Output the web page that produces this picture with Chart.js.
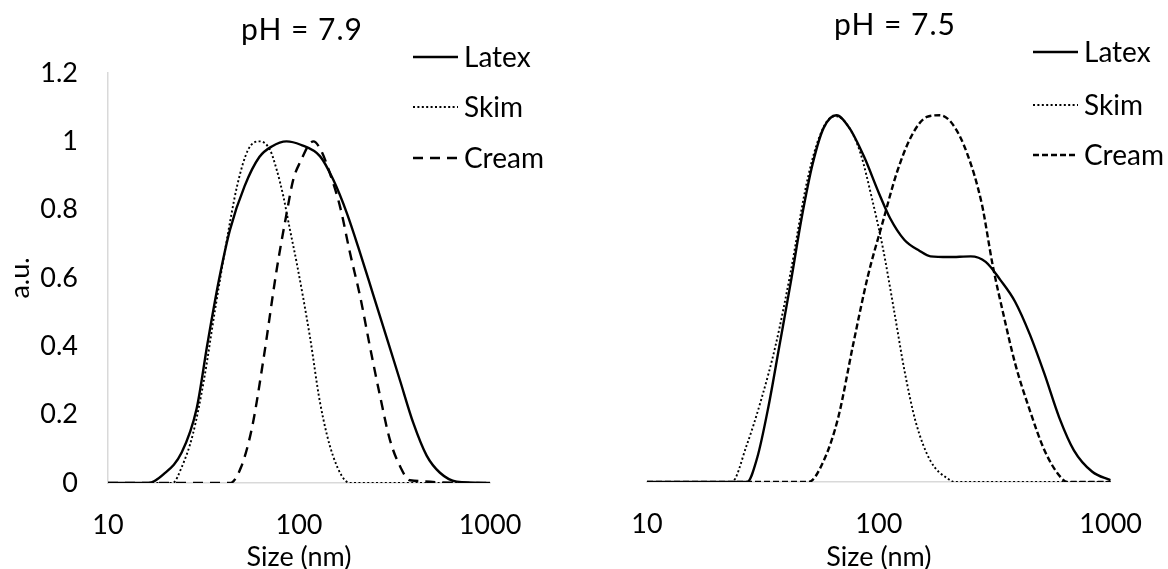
<!DOCTYPE html>
<html>
<head>
<meta charset="utf-8">
<title>Particle size distribution</title>
<script src="https://cdn.jsdelivr.net/npm/chart.js@4.4.1/dist/chart.umd.min.js"></script>
<style>
  body { margin: 0; background: #fff; }
  #wrap { position: relative; width: 1168px; height: 569px; overflow: hidden; }
  canvas { position: absolute; top: 0; }
  #left { left: 0; }
  #right { left: 580px; }
</style>
</head>
<body>
<div id="wrap">
  <canvas id="left" width="580" height="569"></canvas>
  <canvas id="right" width="588" height="569"></canvas>
</div>
<script>
// axis ticks
const sizeTicks = [10, 100, 1000];
const auTicks = [0, 0.2, 0.4, 0.6, 0.8, 1, 1.2];

// pH 7.9
const latex79Size = [10, 16.3, 19.5, 24.3, 29.1, 33.2, 38, 43.5, 51.9, 62, 72, 86, 102, 129, 151, 178, 209, 245, 288, 338, 397, 466, 547, 670, 1000];
const latex79Val  = [0, 0, 0.025, 0.089, 0.217, 0.409, 0.591, 0.741, 0.869, 0.954, 0.985, 1.0, 0.99, 0.956, 0.888, 0.79, 0.673, 0.55, 0.425, 0.3, 0.175, 0.08, 0.03, 0.004, 0];
const skim79Size  = [10, 21.8, 24.3, 27.8, 31.8, 36.3, 41.5, 47.4, 54.2, 62.5, 70.5, 76.4, 82.8, 89.7, 97.3, 114, 129, 151, 185, 1000];
const skim79Val   = [0, 0, 0.046, 0.142, 0.302, 0.505, 0.698, 0.869, 0.976, 1.0, 0.975, 0.917, 0.839, 0.741, 0.644, 0.429, 0.234, 0.078, 0, 0];
const cream79Size = [10, 43.5, 49.7, 56.8, 64.9, 76.4, 86.2, 93.3, 101, 119, 130, 145, 164, 185, 209, 235, 266, 299, 338, 381, 1000];
const cream79Val  = [0, 0, 0.046, 0.163, 0.356, 0.624, 0.79, 0.888, 0.937, 1.0, 0.975, 0.907, 0.809, 0.673, 0.546, 0.4, 0.253, 0.127, 0.049, 0.008, 0];

// pH 7.5
const latex75Size = [10, 27, 29.9, 33.4, 37.3, 41.6, 46.4, 51.8, 57.8, 65.6, 74.6, 86.4, 100, 112, 129, 150, 167, 200, 249, 289, 334, 387, 448, 518, 600, 694, 833, 1000];
const latex75Val  = [0, 0, 0.072, 0.221, 0.402, 0.582, 0.773, 0.933, 1.039, 1.076, 1.039, 0.954, 0.848, 0.773, 0.71, 0.678, 0.662, 0.66, 0.662, 0.646, 0.593, 0.529, 0.433, 0.317, 0.189, 0.093, 0.03, 0.005];
const skim75Size  = [10, 23.2, 26.8, 31.1, 35.9, 41.6, 48.2, 53.7, 60, 65.6, 74.6, 83.3, 93, 104, 116, 129, 144, 167, 200, 212, 1000];
const skim75Val   = [0, 0, 0.104, 0.242, 0.402, 0.614, 0.858, 0.986, 1.06, 1.073, 1.039, 0.965, 0.837, 0.688, 0.508, 0.327, 0.178, 0.062, 0.008, 0, 0];
const cream75Size = [10, 49.7, 57.8, 66.8, 77.4, 89.6, 104, 120, 139, 161, 183, 208, 240, 278, 310, 346, 387, 448, 518, 600, 650, 1000];
const cream75Val  = [0, 0, 0.062, 0.189, 0.402, 0.603, 0.763, 0.911, 1.018, 1.071, 1.076, 1.05, 0.965, 0.816, 0.635, 0.487, 0.348, 0.21, 0.093, 0.019, 0, 0];

Chart.defaults.font.family = 'Lato, "Open Sans", sans-serif';
Chart.defaults.font.size = 27;
Chart.defaults.color = '#000';

const TITLE_FONT = '30px Lato, "Open Sans", sans-serif';
const LEGEND_FONT = '28px Lato, "Open Sans", sans-serif';
const AXIS = '#d9d9d9';

function pts(xs, ys) {
  return xs.map((x, i) => ({ x: x, y: ys[i] }));
}

function series(label, xs, ys, width, dash) {
  return {
    label: label,
    data: pts(xs, ys),
    borderColor: '#000',
    borderWidth: width,
    borderDash: dash,
    pointRadius: 0,
    cubicInterpolationMode: 'monotone',
    fill: false
  };
}

// title and legend are drawn by hand so they can sit outside the plot area
const panelText = {
  id: 'panelText',
  afterDraw(chart, args, o) {
    const ctx = chart.ctx;
    ctx.save();
    ctx.fillStyle = '#000';
    ctx.textBaseline = 'middle';
    ctx.textAlign = 'center';
    ctx.font = TITLE_FONT;
    ctx.letterSpacing = '1px';
    ctx.fillText(o.title, o.titleX, o.titleY);
    ctx.letterSpacing = '0px';
    ctx.textAlign = 'left';
    ctx.font = LEGEND_FONT;
    chart.data.datasets.forEach((ds, i) => {
      const y = o.legendY[i];
      ctx.beginPath();
      ctx.setLineDash(ds.borderDash || []);
      ctx.lineWidth = ds.borderWidth;
      ctx.strokeStyle = ds.borderColor;
      ctx.moveTo(o.legendX, y);
      ctx.lineTo(o.legendX + 45, y);
      ctx.stroke();
      ctx.setLineDash([]);
      ctx.fillText(ds.label, o.legendX + 51, y + 1);
    });
    ctx.restore();
  }
};

function makePanel(id, datasets, cfg) {
  return new Chart(document.getElementById(id), {
    type: 'line',
    data: { datasets: datasets },
    plugins: [panelText],
    options: {
      responsive: false,
      animation: false,
      layout: { padding: cfg.padding },
      plugins: {
        legend: { display: false },
        tooltip: { enabled: false },
        title: { display: false },
        panelText: cfg.text
      },
      scales: {
        x: {
          type: 'logarithmic',
          min: 10,
          max: 1000,
          afterBuildTicks: s => { s.ticks = sizeTicks.map(v => ({ value: v })); },
          afterFit: s => { s.height = cfg.xHeight; },
          ticks: { padding: 26, maxRotation: 0, autoSkip: false, callback: v => String(v) },
          grid: { display: false, drawTicks: false },
          border: { display: true, color: AXIS, width: 1.5 },
          title: { display: true, text: 'Size (nm)', padding: { top: 0, bottom: -4 } }
        },
        y: {
          display: cfg.showY,
          min: 0,
          max: 1.2,
          afterBuildTicks: s => { s.ticks = auTicks.map(v => ({ value: v })); },
          afterFit: s => { s.width = cfg.yWidth; },
          ticks: { padding: 30, callback: v => String(Math.round(v * 10) / 10) },
          grid: { display: false, drawTicks: false },
          border: { display: true, color: AXIS, width: 1.5 },
          title: { display: true, text: 'a.u.', padding: { top: 4, bottom: 0 } }
        }
      }
    }
  });
}

makePanel('left', [
  series('Latex', latex79Size, latex79Val, 2.4, []),
  series('Skim', skim79Size, skim79Val, 1.9, [2, 2.4]),
  series('Cream', cream79Size, cream79Val, 2.4, [10, 7])
], {
  padding: { left: 0, top: 73, right: 90, bottom: 0 },
  xHeight: 86,
  yWidth: 108,
  showY: true,
  text: { title: 'pH = 7.9', titleX: 302, titleY: 30, legendX: 413, legendY: [57, 107, 158] }
});

makePanel('right', [
  series('Latex', latex75Size, latex75Val, 2.4, []),
  series('Skim', skim75Size, skim75Val, 1.9, [2, 2.4]),
  series('Cream', cream75Size, cream75Val, 2.4, [6, 3])
], {
  padding: { left: 67, top: 73, right: 47, bottom: 0 },
  xHeight: 87,
  yWidth: 0,
  showY: false,
  text: { title: 'pH = 7.5', titleX: 315, titleY: 25, legendX: 453, legendY: [52, 105, 155] }
});
</script>
</body>
</html>
